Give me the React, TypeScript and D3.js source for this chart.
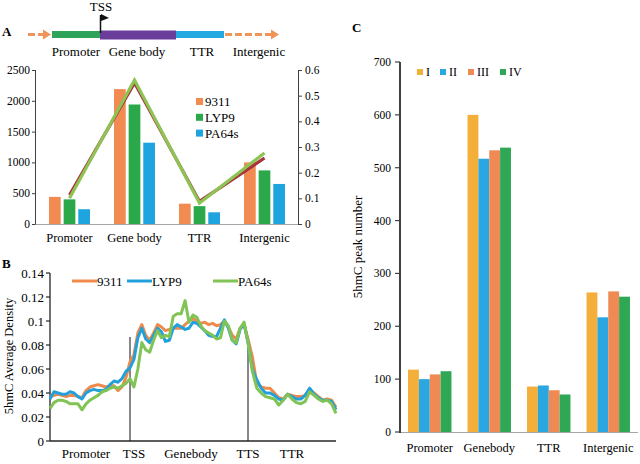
import React, { useEffect, useRef } from 'react';
import * as d3 from 'd3';

// Panel A: peak counts per region and cultivar, density lines on the right axis
const regions = ['Promoter', 'Gene body', 'TTR', 'Intergenic'];
const cultivars = ['9311', 'LYP9', 'PA64s'];
const peaks9311 = [440, 2190, 330, 1000];
const peaksLYP9 = [400, 1940, 290, 870];
const peaksPA64s = [240, 1320, 190, 650];
const ratioRed = [0.113, 0.55, 0.088, 0.257];
const ratioGreen = [0.1, 0.561, 0.082, 0.277];
const countTicks = [0, 500, 1000, 1500, 2000, 2500];
const ratioTicks = [0, 0.1, 0.2, 0.3, 0.4, 0.5, 0.6];

// Panel B: 5hmC density profile, bins 0-20 promoter, 20-50 gene body, 50-70 TTR
const profileLabels = ['Promoter', 'TSS', 'Genebody', 'TTS', 'TTR'];
const profileLabelBins = [9, 21, 35.5, 50, 60];
const boundaryBins = [20, 50];
const profile9311 = [
  0.037, 0.038, 0.039, 0.038, 0.037, 0.038, 0.038, 0.037, 0.036, 0.042,
  0.045, 0.046, 0.047, 0.046, 0.045, 0.046, 0.046, 0.042, 0.045, 0.053,
  0.066, 0.072, 0.09, 0.097, 0.088, 0.084, 0.09, 0.097, 0.095, 0.092,
  0.093, 0.094, 0.094, 0.094, 0.097, 0.1, 0.102, 0.1, 0.098, 0.099,
  0.097, 0.098, 0.096, 0.097, 0.1, 0.095, 0.088, 0.085, 0.094, 0.097,
  0.085, 0.07, 0.048, 0.045, 0.044, 0.044, 0.04, 0.036, 0.035, 0.039,
  0.038, 0.037, 0.037, 0.038, 0.043, 0.04, 0.037, 0.034, 0.035, 0.034,
  0.028,
];
const profileLYP9 = [
  0.035, 0.041, 0.04, 0.039, 0.039, 0.041, 0.04, 0.037, 0.035, 0.04,
  0.042, 0.043, 0.042, 0.042, 0.043, 0.047, 0.05, 0.049, 0.052, 0.058,
  0.061, 0.068, 0.086, 0.094, 0.085, 0.082, 0.088, 0.094, 0.091, 0.083,
  0.084, 0.094, 0.097, 0.095, 0.093, 0.094, 0.099, 0.098, 0.095, 0.092,
  0.088, 0.087, 0.087, 0.094, 0.101, 0.094, 0.084, 0.081, 0.093, 0.098,
  0.082, 0.06, 0.051, 0.044, 0.04, 0.04, 0.038, 0.035, 0.034, 0.039,
  0.037, 0.035, 0.035, 0.038, 0.044, 0.039, 0.036, 0.034, 0.034, 0.033,
  0.026,
];
const profilePA64s = [
  0.027, 0.032, 0.034, 0.034, 0.033, 0.031, 0.031, 0.031, 0.026, 0.031,
  0.034, 0.036, 0.038, 0.041, 0.042, 0.044, 0.045, 0.044, 0.046, 0.048,
  0.052, 0.045, 0.06, 0.082, 0.076, 0.074, 0.084, 0.092, 0.086, 0.088,
  0.087, 0.104, 0.106, 0.106, 0.117, 0.099, 0.105, 0.103, 0.096, 0.092,
  0.09, 0.088, 0.085, 0.086, 0.1, 0.096, 0.084, 0.082, 0.094, 0.099,
  0.082, 0.058, 0.044, 0.04, 0.037, 0.036, 0.035, 0.03, 0.034, 0.039,
  0.035, 0.032, 0.031, 0.033, 0.041, 0.038, 0.035, 0.033, 0.034, 0.031,
  0.023,
];
const densityTicks = [0, 0.02, 0.04, 0.06, 0.08, 0.1, 0.12, 0.14];

// Panel C: peak numbers per stage
const stageRegions = ['Promoter', 'Genebody', 'TTR', 'Intergenic'];
const stages = ['I', 'II', 'III', 'IV'];
const stageI = [118, 600, 86, 264];
const stageII = [100, 517, 88, 217];
const stageIII = [109, 533, 79, 266];
const stageIV = [115, 538, 71, 256];
const peakTicks = [0, 100, 200, 300, 400, 500, 600, 700];

const FONT = '"Liberation Serif", "Times New Roman", serif';

const App: React.FC = () => {
  const svgRef = useRef<SVGSVGElement>(null);

  useEffect(() => {
    if (!svgRef.current) return;
    const svg = d3.select(svgRef.current);
    svg.selectAll('*').remove();
    svg.attr('width', 640).attr('height', 464).style('font-family', FONT);

    const label = (x: number, y: number, t: string, size: number, anchor = 'middle', bold = false) =>
      svg
        .append('text')
        .attr('x', x)
        .attr('y', y)
        .attr('text-anchor', anchor)
        .attr('font-size', size)
        .attr('font-weight', bold ? 'bold' : 'normal')
        .attr('fill', '#000')
        .text(t);

    // ---------- Panel A: gene structure diagram ----------
    label(2, 36, 'A', 13, 'start', true);
    const dash = '#F0955A';
    const drawArrow = (x1: number, x2: number) => {
      svg.append('line')
        .attr('x1', x1).attr('x2', x2 - 6).attr('y1', 34.5).attr('y2', 34.5)
        .attr('stroke', dash).attr('stroke-width', 3).attr('stroke-dasharray', '7,3');
      svg.append('path')
        .attr('d', `M${x2 - 8},29.5 L${x2},34.5 L${x2 - 8},39.5 Z`)
        .attr('fill', dash);
    };
    drawArrow(28, 51);
    drawArrow(225, 279);
    svg.append('rect').attr('x', 52).attr('y', 31).attr('width', 48).attr('height', 7).attr('fill', '#2FA35A');
    svg.append('rect').attr('x', 100).attr('y', 30.5).attr('width', 76).attr('height', 9).attr('fill', '#6A3D9A');
    svg.append('rect').attr('x', 176).attr('y', 31).attr('width', 48).attr('height', 7).attr('fill', '#24A9E1');
    svg.append('line').attr('x1', 100.5).attr('x2', 100.5).attr('y1', 15).attr('y2', 33)
      .attr('stroke', '#111').attr('stroke-width', 1.5);
    svg.append('path').attr('d', 'M101,14 L109,18 L101,21 Z').attr('fill', '#111');
    label(101, 11, 'TSS', 13);
    [
      ['Promoter', 76],
      ['Gene body', 137],
      ['TTR', 202],
      ['Intergenic', 259],
    ].forEach(([t, x]) => label(x as number, 56, t as string, 13));

    // ---------- Panel A: bar + line chart ----------
    const aLeft = 35;
    const aRight = 298;
    const yA = d3.scaleLinear().domain([0, 2500]).range([224, 70]);
    const yA2 = d3.scaleLinear().domain([0, 0.6]).range([224, 70]);
    const xA = d3.scaleBand().domain(regions).range([37, 297]).paddingInner(0.37).paddingOuter(0.185);
    const xA1 = d3.scaleBand().domain(cultivars).range([0, xA.bandwidth()]).paddingInner(0.2);
    const aColors = ['#F18B51', '#2BA84A', '#1EA4DE'];
    const aSeries = [peaks9311, peaksLYP9, peaksPA64s];

    svg.append('line').attr('x1', aLeft).attr('x2', aRight).attr('y1', 224.5).attr('y2', 224.5)
      .attr('stroke', '#A6A6A6').attr('stroke-width', 1);
    cultivars.forEach((c, ci) => {
      svg.append('g').selectAll('rect').data(aSeries[ci]).enter().append('rect')
        .attr('x', (_, i) => (xA(regions[i]) as number) + (xA1(c) as number))
        .attr('y', d => yA(d))
        .attr('width', xA1.bandwidth())
        .attr('height', d => 224 - yA(d))
        .attr('fill', aColors[ci]);
    });

    svg.append('line').attr('x1', aLeft + 0.5).attr('x2', aLeft + 0.5).attr('y1', 70).attr('y2', 224.5)
      .attr('stroke', '#404040');
    svg.append('line').attr('x1', aRight + 0.5).attr('x2', aRight + 0.5).attr('y1', 70).attr('y2', 224.5)
      .attr('stroke', '#404040');
    countTicks.forEach(t => {
      svg.append('line').attr('x1', aLeft - 3).attr('x2', aLeft).attr('y1', yA(t) + 0.5).attr('y2', yA(t) + 0.5)
        .attr('stroke', '#404040');
      label(aLeft - 5, yA(t) + 4, String(t), 11.5, 'end');
    });
    ratioTicks.forEach(t => {
      svg.append('line').attr('x1', aRight).attr('x2', aRight + 4).attr('y1', yA2(t) + 0.5).attr('y2', yA2(t) + 0.5)
        .attr('stroke', '#404040');
      label(aRight + 7, yA2(t) + 4, t === 0 ? '0' : t.toFixed(1), 11.5, 'start');
    });

    const lineA = d3.line<number>()
      .x((_, i) => (xA(regions[i]) as number) + xA.bandwidth() / 2)
      .y(d => yA2(d));
    svg.append('path').attr('d', lineA(ratioRed)).attr('fill', 'none')
      .attr('stroke', '#A8343C').attr('stroke-width', 3.2);
    svg.append('path').attr('d', lineA(ratioGreen)).attr('fill', 'none')
      .attr('stroke', '#8DC454').attr('stroke-width', 3.2).attr('stroke-linejoin', 'miter');

    regions.forEach(r => label((xA(r) as number) + xA.bandwidth() / 2, 242, r, 12.5));

    cultivars.forEach((c, i) => {
      const y = 98 + i * 15.8;
      svg.append('rect').attr('x', 196).attr('y', y).attr('width', 7).attr('height', 7).attr('fill', aColors[i]);
      label(205, y + 8, c, 13, 'start');
    });

    // ---------- Panel B: density profile ----------
    label(2, 268, 'B', 13, 'start', true);
    const xB = d3.scaleLinear().domain([0, 20, 50, 70]).range([50, 130, 248, 336]);
    const yB = d3.scaleLinear().domain([0, 0.14]).range([441, 273]);

    svg.append('line').attr('x1', 50).attr('x2', 50).attr('y1', 273).attr('y2', 441)
      .attr('stroke', '#262626').attr('stroke-width', 1.3);
    svg.append('line').attr('x1', 50).attr('x2', 336).attr('y1', 441).attr('y2', 441)
      .attr('stroke', '#262626').attr('stroke-width', 1.3);
    densityTicks.forEach(t => {
      svg.append('line').attr('x1', 46).attr('x2', 50).attr('y1', yB(t)).attr('y2', yB(t))
        .attr('stroke', '#262626').attr('stroke-width', 1.2);
      label(44, yB(t) + 4.5, t === 0 ? '0' : String(+t.toFixed(2)), 13, 'end');
    });
    boundaryBins.forEach(b => {
      svg.append('line').attr('x1', xB(b)).attr('x2', xB(b)).attr('y1', 337).attr('y2', 441)
        .attr('stroke', '#111').attr('stroke-width', 1);
    });

    const bColors = ['#F08A4B', '#22A0DC', '#80C455'];
    const bSeries = [profile9311, profileLYP9, profilePA64s];
    const lineB = d3.line<number>().x((_, i) => xB(i)).y(d => yB(d));
    bSeries.forEach((s, i) => {
      svg.append('path').attr('d', lineB(s)).attr('fill', 'none')
        .attr('stroke', bColors[i]).attr('stroke-width', 3).attr('stroke-linejoin', 'round');
    });

    profileLabels.forEach((t, i) => label(xB(profileLabelBins[i]), 458, t, 13));

    const bLegendX = [72, 127, 213];
    cultivars.forEach((c, i) => {
      svg.append('line').attr('x1', bLegendX[i]).attr('x2', bLegendX[i] + 25).attr('y1', 281).attr('y2', 281)
        .attr('stroke', bColors[i]).attr('stroke-width', 3);
      label(bLegendX[i] + 25, 285.5, c, 13, 'start');
    });

    svg.append('text')
      .attr('transform', 'translate(13,356) rotate(-90)')
      .attr('text-anchor', 'middle').attr('font-size', 12.5).attr('fill', '#000')
      .text('5hmC Average Density');

    // ---------- Panel C: peak numbers ----------
    label(352, 32, 'C', 13, 'start', true);
    const yC = d3.scaleLinear().domain([0, 700]).range([432, 62]);
    const xC = d3.scaleBand().domain(stageRegions).range([400, 638]).paddingInner(0.27).paddingOuter(0.135);
    const xC1 = d3.scaleBand().domain(stages).range([0, xC.bandwidth()]);
    const cColors = ['#F4AE3A', '#2AA6E0', '#EF8A54', '#2FA855'];
    const cSeries = [stageI, stageII, stageIII, stageIV];

    stages.forEach((s, si) => {
      svg.append('g').selectAll('rect').data(cSeries[si]).enter().append('rect')
        .attr('x', (_, i) => (xC(stageRegions[i]) as number) + (xC1(s) as number))
        .attr('y', d => yC(d))
        .attr('width', xC1.bandwidth())
        .attr('height', d => 432 - yC(d))
        .attr('fill', cColors[si]);
    });

    svg.append('line').attr('x1', 400).attr('x2', 638).attr('y1', 432.5).attr('y2', 432.5)
      .attr('stroke', '#A6A6A6').attr('stroke-width', 1);
    svg.append('line').attr('x1', 400).attr('x2', 400).attr('y1', 62).attr('y2', 433)
      .attr('stroke', '#404040').attr('stroke-width', 2);
    peakTicks.forEach(t => {
      svg.append('line').attr('x1', 395).attr('x2', 400).attr('y1', yC(t)).attr('y2', yC(t))
        .attr('stroke', '#404040').attr('stroke-width', 1.2);
      label(391, yC(t) + 4, String(t), 11.5, 'end');
    });
    stageRegions.forEach(r => label((xC(r) as number) + xC.bandwidth() / 2, 452, r, 12.5));

    const cLegendX = [417, 440, 468, 500];
    stages.forEach((s, i) => {
      svg.append('rect').attr('x', cLegendX[i]).attr('y', 69).attr('width', 6).attr('height', 6).attr('fill', cColors[i]);
      label(cLegendX[i] + 9, 76, s, 12, 'start');
    });

    svg.append('text')
      .attr('transform', 'translate(362,247) rotate(-90)')
      .attr('text-anchor', 'middle').attr('font-size', 13).attr('fill', '#000')
      .text('5hmC peak number');
  }, []);

  return <svg ref={svgRef} style={{ position: 'absolute', left: 0, top: 0 }} />;
};

export default App;
